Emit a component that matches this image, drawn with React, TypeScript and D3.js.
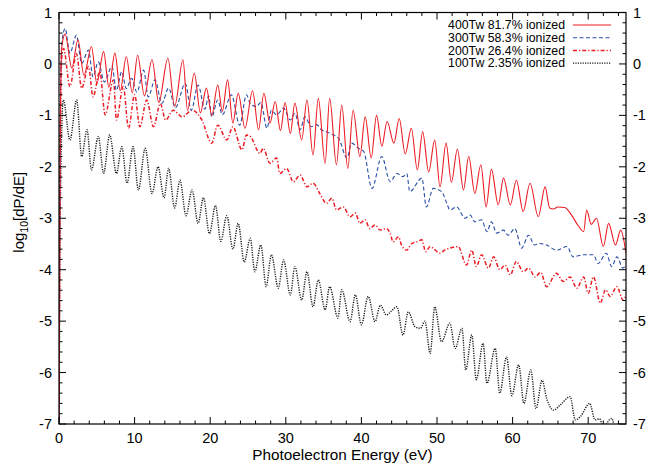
import React from "react";
import * as d3 from "d3";

// Photoelectron energy (eV), log10 dP/dE
const s400: [number, number][] = [
  [0,-7.6],[0.12,-2.5],[0.35,0.3],[0.8,0.58],[1.7,-0.08],[2.5,0.47],[3.3,-0.22],[4.3,0.34],[5.0,-0.38],[5.9,0.24],[6.6,-0.45],[7.4,0.21],[8.1,-0.52],[8.9,0.14],[9.7,-0.56],[10.4,0.17],[11.3,-0.62],[12.3,0.08],[13.2,-0.75],[14.4,0.11],[15.3,-0.82],[16.4,0.08],[17.0,-0.9],[17.9,-0.18],[18.7,-0.95],[19.5,-0.47],[20.2,-1.0],[21.0,-0.41],[21.6,-0.92],[22.3,-0.31],[23.0,-1.15],[23.7,-0.57],[24.6,-1.25],[25.6,-0.52],[26.4,-1.28],[27.1,-0.57],[27.9,-1.15],[28.6,-0.73],[29.3,-1.3],[29.9,-0.75],[30.6,-1.35],[31.2,-0.76],[32.1,-1.48],[32.8,-0.70],[33.6,-1.77],[34.3,-0.67],[35.2,-1.93],[35.8,-0.67],[36.7,-1.96],[37.4,-0.8],[38.2,-2.03],[38.9,-0.9],[39.8,-1.8],[40.5,-1.03],[41.3,-1.83],[42.0,-1.0],[42.7,-1.6],[43.4,-1.12],[44.3,-1.54],[45.0,-1.06],[45.8,-1.75],[46.6,-1.25],[47.4,-2.06],[48.1,-1.32],[48.9,-2.1],[49.7,-1.48],[50.4,-2.39],[51.2,-1.54],[51.9,-2.3],[52.7,-1.66],[53.5,-2.45],[54.2,-1.8],[55.0,-2.52],[55.8,-1.96],[56.5,-2.78],[57.2,-2.05],[58.1,-2.74],[58.8,-2.22],[59.7,-2.74],[60.5,-2.26],[61.4,-2.87],[62.3,-2.32],[63.4,-2.97],[64.3,-2.39],[64.9,-2.8],[65.4,-2.82],[66.0,-2.78],[66.9,-2.79],[67.8,-2.94],[68.7,-3.15],[69.4,-3.26],[69.8,-2.84],[70.4,-3.12],[71.1,-3.0],[72.0,-3.55],[72.7,-3.1],[73.6,-3.52],[74.3,-3.23],[75.0,-3.68]
];

const s300: [number, number][] = [
  [0,-7.6],[0.12,-2.0],[0.35,0.35],[0.8,0.69],[1.45,0.21],[2.3,0.56],[3.0,0.01],[3.9,0.27],[4.5,-0.25],[5.2,0.04],[6.0,-0.35],[7.0,-0.05],[7.6,-0.51],[8.3,-0.15],[8.9,-0.48],[9.6,-0.28],[10.3,-0.55],[11.2,-0.12],[11.8,-0.64],[12.7,-0.31],[13.6,-0.77],[14.5,-0.47],[15.4,-0.85],[16.7,-0.38],[17.5,-0.9],[18.4,-0.41],[19.3,-0.88],[19.8,-0.62],[20.2,-1.03],[21.0,-0.7],[21.6,-0.99],[22.8,-0.6],[23.9,-1.19],[24.8,-0.6],[25.3,-0.77],[26.1,-0.83],[26.7,-0.75],[27.5,-1.25],[28.1,-0.9],[28.8,-0.99],[29.7,-0.86],[30.6,-1.09],[31.2,-0.96],[31.9,-1.28],[32.5,-1.03],[33.4,-1.22],[34.1,-1.18],[34.7,-1.28],[35.4,-1.32],[36.3,-1.38],[37.0,-1.45],[38.1,-1.83],[38.7,-1.54],[39.6,-1.64],[40.3,-1.7],[41.4,-2.42],[42.7,-1.8],[43.8,-2.29],[44.7,-2.13],[45.5,-2.19],[46.0,-2.13],[46.4,-2.48],[48.0,-2.22],[48.6,-2.78],[49.5,-2.42],[50.6,-2.48],[51.3,-2.71],[51.7,-2.84],[52.6,-2.78],[53.7,-3.0],[54.4,-2.94],[55.0,-3.07],[55.9,-3.03],[56.6,-3.26],[57.2,-3.07],[57.9,-3.29],[58.8,-3.23],[59.4,-3.33],[60.3,-3.2],[61.2,-3.58],[62.1,-3.33],[62.9,-3.52],[63.6,-3.49],[64.5,-3.52],[65.8,-3.62],[67.2,-3.55],[68.0,-3.75],[69.4,-3.71],[70.7,-3.71],[71.3,-3.88],[72.4,-3.68],[73.1,-3.94],[73.8,-3.75],[74.6,-3.97],[75.0,-3.9]
];

const s200: [number, number][] = [
  [0,-7.6],[0.12,-2.5],[0.35,0.1],[0.6,0.3],[1.45,-0.44],[2.3,0.2],[3.0,-0.47],[3.9,-0.05],[4.5,-0.64],[5.4,-0.15],[6.1,-0.99],[7.2,-0.31],[7.6,-1.09],[8.5,-0.44],[9.2,-1.25],[10.0,-0.6],[10.7,-1.22],[11.6,-0.7],[12.5,-1.22],[13.4,-0.77],[14.1,-1.09],[15.1,-0.9],[16.3,-1.03],[17.6,-0.9],[18.9,-1.09],[20.2,-1.54],[21.0,-1.19],[22.2,-1.48],[23.0,-1.22],[24.2,-1.67],[24.8,-1.38],[25.3,-1.41],[26.6,-1.74],[27.0,-1.64],[27.9,-1.93],[28.8,-1.83],[29.2,-2.13],[30.1,-2.03],[31.0,-2.29],[31.9,-2.16],[32.8,-2.39],[33.6,-2.32],[34.5,-2.52],[35.4,-2.71],[36.1,-2.61],[36.7,-2.84],[37.6,-2.78],[38.5,-2.97],[39.2,-2.9],[39.8,-3.1],[40.5,-3.03],[41.1,-3.2],[41.8,-3.13],[42.5,-3.23],[43.3,-3.2],[43.8,-3.29],[44.2,-3.46],[44.9,-3.36],[45.3,-3.52],[46.0,-3.62],[46.6,-3.5],[47.3,-3.46],[48.0,-3.42],[48.5,-3.65],[49.1,-3.55],[49.6,-3.6],[50.4,-3.68],[51.0,-3.62],[51.7,-3.58],[52.8,-3.55],[53.9,-3.91],[54.6,-3.62],[55.2,-3.94],[55.9,-3.71],[56.8,-3.97],[57.5,-3.75],[58.3,-4.0],[59.0,-3.91],[59.7,-4.1],[60.5,-3.84],[61.4,-4.04],[62.1,-3.97],[63.0,-4.14],[63.7,-4.05],[64.5,-4.33],[65.8,-4.07],[66.7,-4.23],[67.6,-4.14],[68.5,-4.36],[69.4,-4.14],[70.0,-4.46],[70.7,-4.14],[71.6,-4.65],[72.3,-4.39],[72.9,-4.52],[73.8,-4.33],[74.6,-4.59],[75.0,-4.5]
];

const s100: [number, number][] = [
  [0,-7.6],[0.15,-3.0],[0.57,-0.70],[1.45,-1.48],[2.34,-0.70],[3.0,-1.8],[3.7,-1.28],[4.3,-2.06],[5.2,-1.41],[5.9,-2.13],[6.7,-1.38],[7.6,-2.13],[8.3,-1.61],[9.0,-2.32],[9.8,-1.61],[10.5,-2.45],[11.4,-1.64],[12.3,-2.52],[13.1,-2.0],[13.9,-2.6],[14.5,-2.03],[15.3,-2.8],[16.0,-2.26],[16.8,-2.95],[17.6,-2.45],[18.4,-3.1],[19.1,-2.6],[19.9,-3.3],[20.7,-2.75],[21.4,-3.45],[22.2,-2.95],[23.0,-3.6],[23.7,-3.1],[24.5,-3.85],[25.3,-3.39],[25.9,-4.04],[26.7,-3.52],[27.4,-4.33],[28.1,-3.71],[29.0,-4.36],[29.7,-3.81],[30.6,-4.49],[31.2,-3.94],[32.1,-4.59],[32.8,-4.04],[33.6,-4.72],[34.3,-4.2],[35.2,-4.78],[35.8,-4.33],[36.9,-4.94],[37.4,-4.39],[38.5,-5.01],[39.2,-4.49],[40.0,-5.07],[40.9,-4.52],[41.8,-5.01],[42.5,-4.69],[43.3,-4.88],[44.0,-4.8],[44.7,-4.72],[45.5,-5.27],[46.2,-4.82],[47.1,-5.11],[47.8,-5.14],[48.4,-5.0],[49.1,-5.63],[49.7,-4.72],[50.6,-5.4],[51.7,-5.04],[52.4,-5.53],[53.3,-5.14],[53.8,-5.95],[54.6,-5.27],[55.2,-6.14],[56.1,-5.43],[56.6,-6.21],[57.7,-5.53],[58.3,-6.4],[59.2,-5.7],[59.9,-6.45],[60.8,-5.85],[61.5,-6.6],[62.4,-5.95],[63.1,-6.7],[63.9,-6.15],[64.5,-6.5],[65.4,-6.73],[66.3,-6.63],[67.6,-6.47],[68.3,-6.92],[69.0,-6.85],[70.2,-6.6],[70.9,-6.92],[71.5,-6.9],[72.0,-7.05],[73.1,-6.89],[73.6,-7.1],[75.0,-7.2]
];

const seriesLabels = ["400Tw 81.7% ionized", "300Tw 58.3% ionized", "200Tw 26.4% ionized", "100Tw 2.35% ionized"];
const xTickValues = [0, 10, 20, 30, 40, 50, 60, 70];
const yTickValues = [-7, -6, -5, -4, -3, -2, -1, 0, 1];
const xDomain = [0, 75];
const yDomain = [-7, 1];

const W = 647, H = 468;
const L = 59, R = 626, T = 12.5, B = 424;
const FONT = "'Liberation Sans', Arial, Helvetica, sans-serif";

const styles = [
  { color: "#ec1c24", dash: "none", width: 1.1 },
  { color: "#2a4ea6", dash: "4,2.5", width: 1.1 },
  { color: "#ec1c24", dash: "4,2,1.2,2", width: 1.5 },
  { color: "#1a1a1a", dash: "1.2,1.2", width: 1.4 },
];

export default function App() {
  const x = d3.scaleLinear().domain(xDomain).range([L, R]);
  const y = d3.scaleLinear().domain(yDomain).range([B, T]);
  const line = d3.line<[number, number]>().x(d => x(d[0])).y(d => y(d[1])).curve(d3.curveMonotoneX);
  const data = [s400, s300, s200, s100];

  const xMinor = d3.range(0, 75.001, 2).filter(v => v % 10 !== 0);
  const yMinor = d3.range(-7, 1.0001, 0.2).map(v => Math.round(v * 10) / 10).filter(v => Math.abs(v - Math.round(v)) > 1e-6);
  const major = 7, minor = 3.5;

  return (
    <svg width={W} height={H} style={{ position: "absolute", left: 0, top: 0, background: "#fff" }} fontFamily={FONT}>
      <defs>
        <clipPath id="plot"><rect x={L} y={T} width={R - L} height={B - T} /></clipPath>
      </defs>
      <g clipPath="url(#plot)">
        {[3, 2, 1, 0].map(i => (
          <path key={i} d={line(data[i]) || ""} fill="none" stroke={styles[i].color}
            strokeWidth={styles[i].width} strokeDasharray={styles[i].dash} strokeLinejoin="round" />
        ))}
      </g>
      {/* ticks */}
      <g stroke="#000" strokeWidth={1}>
        {xTickValues.map(v => (
          <g key={"xt" + v}>
            <line x1={x(v)} x2={x(v)} y1={B} y2={B - major} />
            <line x1={x(v)} x2={x(v)} y1={T} y2={T + major} />
          </g>
        ))}
        {xMinor.map(v => (
          <g key={"xm" + v}>
            <line x1={x(v)} x2={x(v)} y1={B} y2={B - minor} />
            <line x1={x(v)} x2={x(v)} y1={T} y2={T + minor} />
          </g>
        ))}
        {yTickValues.map(v => (
          <g key={"yt" + v}>
            <line x1={L} x2={L + major} y1={y(v)} y2={y(v)} />
            <line x1={R} x2={R - major} y1={y(v)} y2={y(v)} />
          </g>
        ))}
        {yMinor.map(v => (
          <g key={"ym" + v}>
            <line x1={L} x2={L + minor} y1={y(v)} y2={y(v)} />
            <line x1={R} x2={R - minor} y1={y(v)} y2={y(v)} />
          </g>
        ))}
      </g>
      <rect x={L} y={T} width={R - L} height={B - T} fill="none" stroke="#000" strokeWidth={1.2} />
      {/* tick labels */}
      <g fontSize={14.5} fill="#000">
        {xTickValues.map(v => (
          <text key={"xl" + v} x={x(v)} y={B + 19} textAnchor="middle">{v}</text>
        ))}
        {yTickValues.map(v => (
          <text key={"yl" + v} x={L - 7} y={y(v) + 5} textAnchor="end">{v}</text>
        ))}
        {yTickValues.map(v => (
          <text key={"yr" + v} x={R + 7} y={y(v) + 5} textAnchor="start">{v}</text>
        ))}
      </g>
      <text x={(L + R) / 2} y={H - 8} textAnchor="middle" fontSize={15.3}>Photoelectron Energy (eV)</text>
      <text transform={`translate(24,${(T + B) / 2 - 6}) rotate(-90)`} textAnchor="middle" fontSize={15}>
        log<tspan fontSize={10.5} dy={4}>10</tspan><tspan dy={-4}>[dP/dE]</tspan>
      </text>
      {/* legend */}
      <g fontSize={12.3}>
        {seriesLabels.map((s, i) => {
          const yy = 25 + i * 12.7;
          return (
            <g key={s}>
              <text x={565} y={yy + 4.3} textAnchor="end">{s}</text>
              <line x1={573} x2={611} y1={yy} y2={yy} stroke={styles[i].color}
                strokeWidth={styles[i].width} strokeDasharray={styles[i].dash} />
            </g>
          );
        })}
      </g>
    </svg>
  );
}
